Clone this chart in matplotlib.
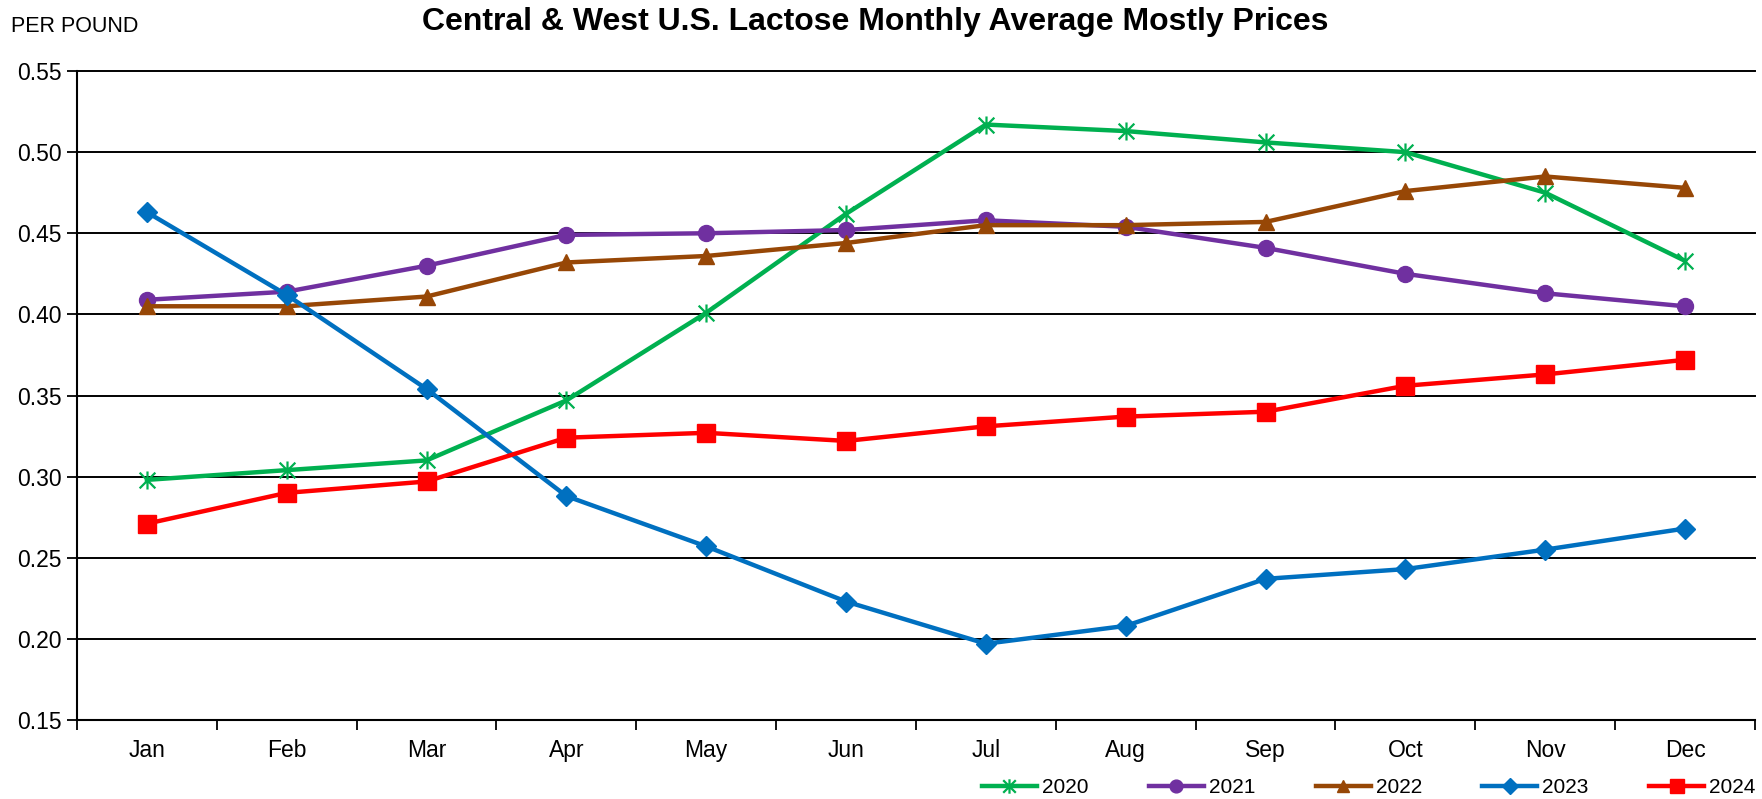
import numpy as np
import matplotlib
matplotlib.use("Agg")
from matplotlib import pyplot as plt
from matplotlib.path import Path

plt.rcParams['font.family'] = ['Liberation Sans', 'DejaVu Sans']

# data
months = ["Jan", "Feb", "Mar", "Apr", "May", "Jun",
          "Jul", "Aug", "Sep", "Oct", "Nov", "Dec"]
y2020 = [0.298, 0.304, 0.310, 0.347, 0.401, 0.462, 0.517, 0.513, 0.506, 0.500, 0.475, 0.433]
y2021 = [0.409, 0.414, 0.430, 0.449, 0.450, 0.452, 0.458, 0.454, 0.441, 0.425, 0.413, 0.405]
y2022 = [0.405, 0.405, 0.411, 0.432, 0.436, 0.444, 0.455, 0.455, 0.457, 0.476, 0.485, 0.478]
y2023 = [0.463, 0.412, 0.354, 0.288, 0.257, 0.223, 0.197, 0.208, 0.237, 0.243, 0.255, 0.268]
y2024 = [0.271, 0.290, 0.297, 0.324, 0.327, 0.322, 0.331, 0.337, 0.340, 0.356, 0.363, 0.372]

# asterisk marker like Excel's star (x with a vertical bar)
star = Path([(-1, -1), (1, 1), (-1, 1), (1, -1), (0, -1.15), (0, 1.15)],
            [Path.MOVETO, Path.LINETO, Path.MOVETO, Path.LINETO, Path.MOVETO, Path.LINETO])

series = [
    ("2020", y2020, "#00B050", star, 13),
    ("2021", y2021, "#7030A0", "o", 11.5),
    ("2022", y2022, "#974706", "^", 11.5),
    ("2023", y2023, "#0070C0", "D", 10),
    ("2024", y2024, "#FF0000", "s", 12.5),
]

fig = plt.figure(figsize=(17.62, 7.99), dpi=100)
ax = fig.add_axes([0.0437, 0.0989, 0.9523, 0.8122])

x = np.arange(len(months))
for name, vals, col, mk, ms in series:
    if mk is star:
        ax.plot(x, vals, color=col, lw=3.2, marker=mk, ms=ms, mfc="none",
                mec=col, mew=1.6, label=name, zorder=3)
    else:
        ax.plot(x, vals, color=col, lw=3.2, marker=mk, ms=ms, mfc=col,
                mec=col, label=name, zorder=3)

ax.set_xlim(-0.5, 11.5)
ax.set_ylim(0.15, 0.55)
ax.set_yticks(np.arange(0.15, 0.551, 0.05))
ax.set_yticklabels([f"{v:.2f}" for v in np.arange(0.15, 0.551, 0.05)])
ax.yaxis.grid(True, color="black", lw=1.4)
for gl in ax.get_ygridlines():
    gl.set_clip_on(False)
ax.set_axisbelow(True)

ax.set_xticks(x)
ax.set_xticklabels(months)
ax.set_xticks(np.arange(-0.5, 12, 1), minor=True)
ax.tick_params(axis="x", which="major", length=0, pad=14, labelsize=16.5)
ax.tick_params(axis="x", which="minor", length=7, width=1.3, direction="out")
ax.tick_params(axis="y", length=7, width=1.3, labelsize=16.5, pad=4)

for s in ["top", "right"]:
    ax.spines[s].set_visible(False)
for s in ["left", "bottom"]:
    ax.spines[s].set_linewidth(1.5)

fig.text(0.497, 0.972, "Central & West U.S. Lactose Monthly Average Mostly Prices",
         ha="center", va="center", fontsize=23, fontweight="bold")
fig.text(0.006, 0.967, "PER POUND", ha="left", va="center", fontsize=15.5)

fig.legend(loc="center left", bbox_to_anchor=(0.5573, 0.0138), ncol=5, frameon=False,
           borderpad=0, borderaxespad=0, markerscale=0.8,
           handlelength=2.64, handletextpad=0.24, columnspacing=2.9,
           prop={"size": 15})

fig.savefig("out.png", dpi=100)
